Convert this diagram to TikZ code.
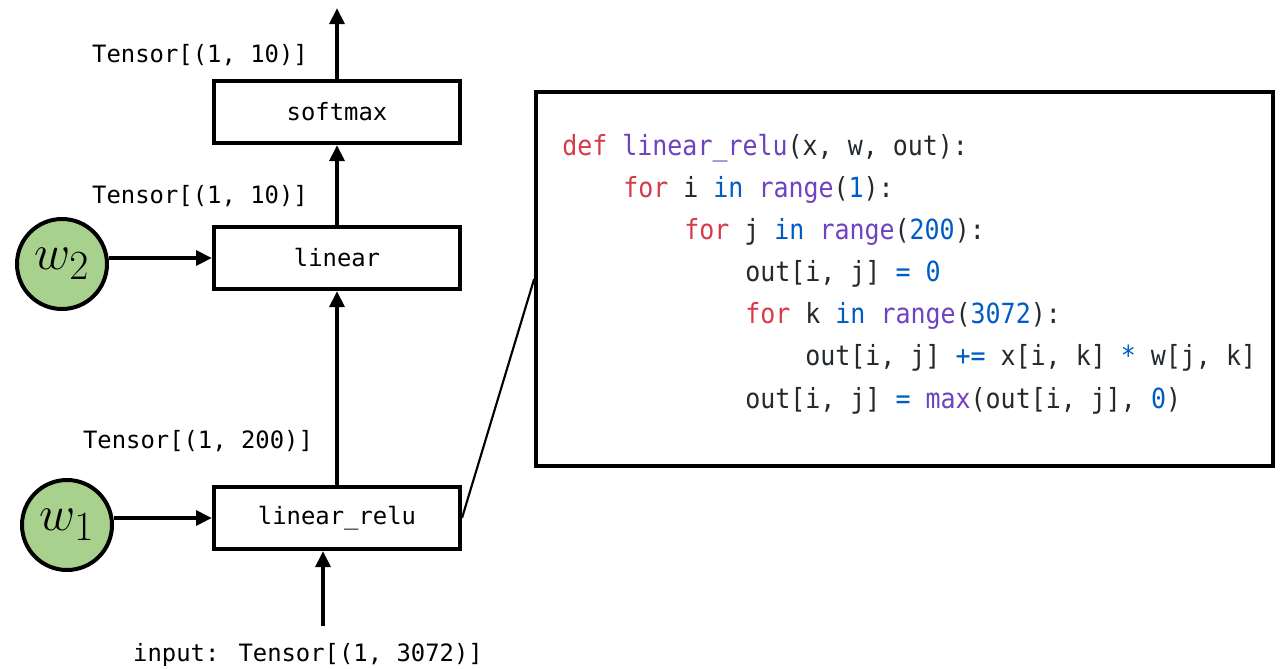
\documentclass[tikz,border=0pt]{standalone}
\usepackage{graphicx}
\usepackage{fontspec}
\usetikzlibrary{arrows.meta}
\newfontfamily\codefont[FakeStretch=0.9]{DejaVu Sans Mono}
\newfontfamily\labfont{DejaVu Sans Mono}
\definecolor{kw}{HTML}{D73A49}
\definecolor{fn}{HTML}{6F42C1}
\definecolor{bl}{HTML}{005CC5}
\definecolor{codetxt}{HTML}{24292E}
\definecolor{wgreen}{HTML}{A9D18E}
\newcommand{\K}[1]{\textcolor{kw}{#1}}
\newcommand{\F}[1]{\textcolor{fn}{#1}}
\newcommand{\B}[1]{\textcolor{bl}{#1}}
\newcommand{\wlab}[1]{\scalebox{1.5}{$w_{#1}$}}
\begin{document}
\begin{tikzpicture}[x=0.75pt,y=-0.75pt,
  opbox/.style={draw, line width=3pt, minimum width=184.5pt, minimum height=46.5pt, inner sep=0pt, font=\labfont\fontsize{17.9}{20}\selectfont},
  wnode/.style={circle, draw, fill=wgreen, line width=3pt, minimum size=67.5pt, inner sep=0pt, font=\Huge},
  flow/.style={line width=2.8pt, -{Triangle[length=12pt,width=11pt]}},
  lab/.style={inner sep=0pt, font=\labfont\fontsize{17.9}{20}\selectfont},
  codeline/.style={anchor=base west, inner sep=0pt, font=\codefont\fontsize{20.8}{24}\selectfont, text=codetxt},
  codebox/.style={draw, line width=2.8pt, minimum width=552.75pt, minimum height=280.5pt, inner sep=0pt},
  zoomline/.style={line width=1.6pt}
]
\useasboundingbox (0,0) rectangle (1281,668);

% operation boxes
\node[opbox] (sm) at (337,112) {softmax};
\node[opbox] (lin) at (337,258) {linear};
\node[opbox] (lr) at (337,518) {linear\_relu};

% weights
\node[wnode] (w2) at (62,264) {\wlab{2}};
\node[wnode] (w1) at (67,525) {\wlab{1}};

% labels
\node[lab] (t1) at (200,55) {Tensor[(1, 10)]};
\node[lab] (t2) at (200,196) {Tensor[(1, 10)]};
\node[lab] (t3) at (198,441) {Tensor[(1, 200)]};
\node[lab] (inlab) at (308,655) {input: Tensor[(1, 3072)]};

% free ends
\coordinate (outc) at (337,8);
\coordinate (inc) at (323,626);

% connectors
\draw[flow] (sm.north) -- (outc);
\draw[flow] (lin.north) -- (sm.south);
\draw[flow] (lr.north) -- (lin.south);
\draw[flow] (inc) -- (inc |- lr.south);
\draw[flow] (w2.east |- lin.west) -- (lin.west);
\draw[flow] (w1.east |- lr.west) -- (lr.west);

% code box
\node[codebox] (code) at (904.5,279) {};
\draw[zoomline] (lr.east) -- (code.west);

\node[codeline] (c1) at (562,155) {\K{def} \F{linear\_relu}(x, w, out):};
\node[codeline] (c2) at (623,197) {\K{for} i \B{in} \F{range}(\B{1}):};
\node[codeline] (c3) at (684,239) {\K{for} j \B{in} \F{range}(\B{200}):};
\node[codeline] (c4) at (745,281) {out[i, j] \B{=} \B{0}};
\node[codeline] (c5) at (745,323) {\K{for} k \B{in} \F{range}(\B{3072}):};
\node[codeline] (c6) at (805,365) {out[i, j] \B{+=} x[i, k] \B{*} w[j, k]};
\node[codeline] (c7) at (745,408) {out[i, j] \B{=} \F{max}(out[i, j], \B{0})};
\end{tikzpicture}
\end{document}
